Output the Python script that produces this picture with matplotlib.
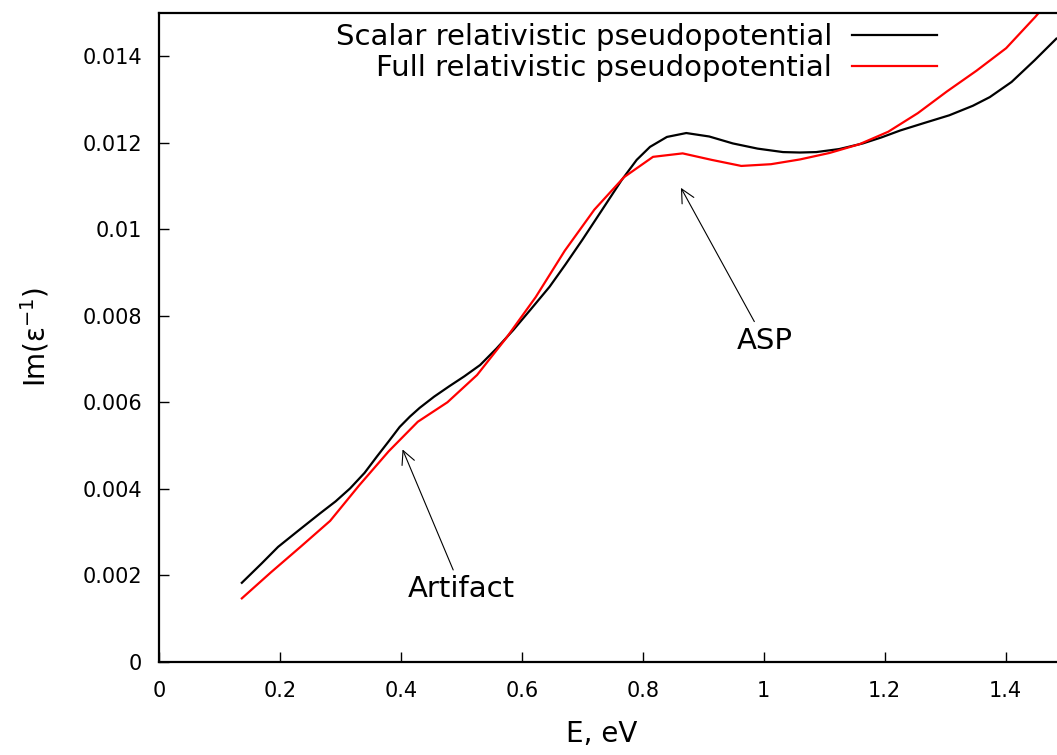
"""Im(1/eps) loss spectrum, scalar vs full relativistic pseudopotential"""
import matplotlib as mpl
mpl.use('Agg')  # no display
import matplotlib.pyplot as plt

# scalar relativistic curve (smooth)
e_scalar = [0.137, 0.170, 0.197, 0.230, 0.266, 0.292, 0.316, 0.340, 0.360,
            0.380, 0.398, 0.415, 0.431, 0.455, 0.480, 0.505, 0.531, 0.558,
            0.586, 0.615, 0.646, 0.672, 0.700, 0.733, 0.765, 0.790, 0.812,
            0.840, 0.872, 0.910, 0.949, 0.990, 1.032, 1.060, 1.087, 1.125,
            1.164, 1.195, 1.226, 1.265, 1.307, 1.346, 1.374, 1.410, 1.448,
            1.484]
im_scalar = [0.00183, 0.00228, 0.00266, 0.00303, 0.00343, 0.00371, 0.00401,
             0.00437, 0.00474, 0.00510, 0.00543, 0.00567, 0.00587, 0.00613,
             0.00637, 0.00660, 0.00686, 0.00724, 0.00767, 0.00815, 0.00867,
             0.00918, 0.00975, 0.01045, 0.01113, 0.01160, 0.01190, 0.01213,
             0.01222, 0.01214, 0.01198, 0.01186, 0.01178, 0.01177, 0.01178,
             0.01185, 0.01198, 0.01212, 0.01228, 0.01245, 0.01263, 0.01285,
             0.01305, 0.01340, 0.01390, 0.01440]

# full relativistic curve (coarse grid)
e_full = [0.137, 0.185, 0.234, 0.283, 0.331, 0.380, 0.428, 0.477, 0.526,
          0.574, 0.623, 0.671, 0.720, 0.769, 0.817, 0.866, 0.914, 0.963,
          1.012, 1.060, 1.109, 1.158, 1.206, 1.255, 1.303, 1.352, 1.401,
          1.449, 1.498]
im_full = [0.00147, 0.00207, 0.00266, 0.00326, 0.00408, 0.00487, 0.00555,
           0.00600, 0.00663, 0.00748, 0.00843, 0.00950, 0.01045, 0.01120,
           0.01167, 0.01175, 0.01160, 0.01146, 0.01150, 0.01161, 0.01176,
           0.01196, 0.01225, 0.01268, 0.01318, 0.01366, 0.01418, 0.01490,
           0.01570]

labels = ['Scalar relativistic pseudopotential',
          'Full relativistic pseudopotential']

xticks = [0, 0.2, 0.4, 0.6, 0.8, 1.0, 1.2, 1.4]
xticklabels = ['0', '0.2', '0.4', '0.6', '0.8', '1', '1.2', '1.4']
yticks = [0, 0.002, 0.004, 0.006, 0.008, 0.010, 0.012, 0.014]
yticklabels = ['0', '0.002', '0.004', '0.006', '0.008', '0.01', '0.012', '0.014']

W, H = 1057, 755
fig = plt.figure(figsize=(W / 100, H / 100), dpi=100)
# axes run past the right edge of the picture (cropped like the original)
ax = fig.add_axes([159 / W, (H - 662) / H, 907 / W, 649.3 / H])

ax.plot(e_scalar, im_scalar, color='black', lw=1.6, label=labels[0])
ax.plot(e_full, im_full, color='red', lw=1.6, label=labels[1])

ax.set_xlim(0, 1.5)
ax.set_ylim(0, 0.015)
ax.set_xticks(xticks)
ax.set_xticklabels(xticklabels)
ax.set_yticks(yticks)
ax.set_yticklabels(yticklabels)
ax.tick_params(direction='in', length=7, width=1, labelsize=15)
ax.tick_params(axis='x', pad=14)
ax.tick_params(axis='y', pad=12)
for side in ['left', 'bottom', 'top']:
    ax.spines[side].set_linewidth(1.6)
ax.spines['right'].set_visible(False)

ax.set_xlabel('E, eV', fontsize=20)
ax.xaxis.set_label_coords(0.488, -0.090)
ax.set_ylabel(r'Im($\mathregular{\varepsilon^{-1}}$)', fontsize=20)
ax.yaxis.set_label_coords(-0.118, 0.50)

arrow = dict(arrowstyle='->', color='black', lw=0.8, mutation_scale=24)
ax.annotate('ASP', xy=(0.861, 0.01101), xytext=(1.002, 0.00742),
            ha='center', va='center', fontsize=21, arrowprops=arrow)
ax.annotate('Artifact', xy=(0.401, 0.00497), xytext=(0.500, 0.00168),
            ha='center', va='center', fontsize=21, arrowprops=arrow)

ax.legend(loc='upper right', bbox_to_anchor=(937 / W, 1 - 23 / H),
          bbox_transform=fig.transFigure, markerfirst=False, frameon=False,
          fontsize=21, borderpad=0, borderaxespad=0, handlelength=2.9,
          handletextpad=0.7, labelspacing=0.1)

plt.savefig('out.png', dpi=100)
